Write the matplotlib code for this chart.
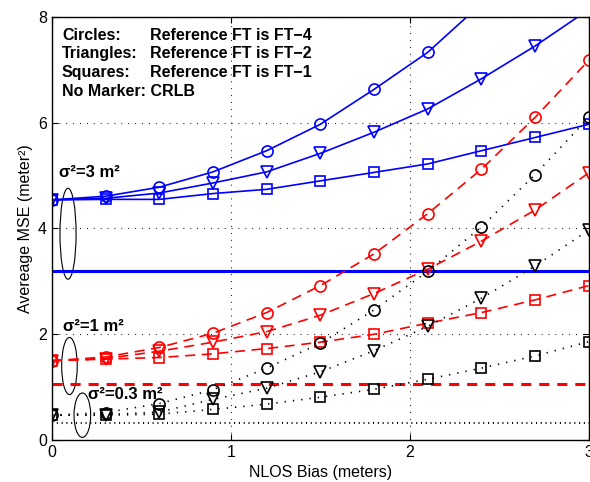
import matplotlib
matplotlib.use("Agg")
import matplotlib.pyplot as plt
from matplotlib.patches import Ellipse

plt.rcParams['font.family'] = ['Liberation Sans', 'DejaVu Sans']

# NLOS bias values (meters)
bias = [0, 0.3, 0.6, 0.9, 1.2, 1.5, 1.8, 2.1, 2.4, 2.7, 3.0]

# sigma^2 = 3 m^2 (blue, solid)
s3_circ = [4.54, 4.61, 4.78, 5.07, 5.47, 5.97, 6.63, 7.33, 8.25, 9.2, 10.2]
s3_tri = [4.54, 4.57, 4.67, 4.86, 5.07, 5.42, 5.82, 6.26, 6.83, 7.45, 8.14]
s3_sq = [4.54, 4.55, 4.55, 4.66, 4.74, 4.90, 5.06, 5.22, 5.47, 5.72, 5.97]
s3_crlb = 3.19

# sigma^2 = 1 m^2 (red, dashed)
s1_circ = [1.50, 1.57, 1.75, 2.02, 2.41, 2.92, 3.52, 4.28, 5.12, 6.10, 7.18]
s1_tri = [1.50, 1.54, 1.68, 1.85, 2.05, 2.36, 2.77, 3.23, 3.76, 4.35, 5.05]
s1_sq = [1.50, 1.53, 1.56, 1.63, 1.73, 1.85, 2.00, 2.21, 2.41, 2.65, 2.92]
s1_crlb = 1.06

# sigma^2 = 0.3 m^2 (black, dotted)
s03_circ = [0.47, 0.52, 0.69, 0.95, 1.36, 1.83, 2.46, 3.19, 4.03, 5.02, 6.10]
s03_tri = [0.47, 0.48, 0.53, 0.77, 0.98, 1.29, 1.69, 2.15, 2.68, 3.29, 3.97]
s03_sq = [0.47, 0.47, 0.49, 0.58, 0.68, 0.81, 0.96, 1.15, 1.36, 1.59, 1.86]
s03_crlb = 0.33

legend_labels = ["Circles:", "Triangles:", "Squares:"]
legend_texts = ["Reference FT is FT\u22124", "Reference FT is FT\u22122", "Reference FT is FT\u22121"]

fig = plt.figure(figsize=(5.9, 4.82), dpi=100)
ax = fig.add_axes([0.088, 0.087, 0.91, 0.878])

groups = [
    ('blue', '-', '-', (s3_circ, s3_tri, s3_sq), s3_crlb),
    ('red', (0, (6, 4)), (0, (3.3, 2.6)), (s1_circ, s1_tri, s1_sq), s1_crlb),
    ('black', (0, (0.8, 4.2)), (0, (0.5, 1.8)), (s03_circ, s03_tri, s03_sq), s03_crlb),
]
for color, ls, crlb_ls, series, crlb in groups:
    for ys, mk, ms in zip(series, ['o', 'v', 's'], [8, 8.5, 6.5]):
        ax.plot(bias, ys, color=color, linestyle=ls, lw=1.2, marker=mk,
                markersize=ms, markerfacecolor='none', markeredgecolor=color,
                markeredgewidth=1.2)
    ax.plot([bias[0], bias[-1]], [crlb, crlb], color=color, linestyle=crlb_ls,
            lw=2.2 if color != 'black' else 1.5)

# ellipses grouping curves
for (cx, cy, w, h) in [(0.09, 3.90, 0.09, 1.72), (0.098, 1.40, 0.087, 1.08), (0.17, 0.47, 0.093, 0.84)]:
    ax.add_patch(Ellipse((cx, cy), w, h, fill=False, edgecolor='black', lw=0.8))

ax.text(0.04, 5.05, "\u03c3\u00b2=3 m\u00b2", fontsize=12, fontweight='bold', va='center')
ax.text(0.06, 2.15, "\u03c3\u00b2=1 m\u00b2", fontsize=12, fontweight='bold', va='center')
ax.text(0.20, 0.87, "\u03c3\u00b2=0.3 m\u00b2", fontsize=12, fontweight='bold', va='center')

ys_txt = [7.65, 7.3, 6.94]
for lab, txt, yy in zip(legend_labels, legend_texts, ys_txt):
    ax.text(0.056, yy, lab, fontsize=11.5, fontweight='bold', va='center')
    ax.text(0.55, yy, txt, fontsize=11.5, fontweight='bold', va='center')
ax.text(0.056, 6.58, "No Marker: CRLB", fontsize=11.5, fontweight='bold', va='center')

ax.set_xlim(0, 3)
ax.set_ylim(0, 8)
ax.set_xticks([0, 1, 2, 3])
ax.set_yticks([0, 2, 4, 6, 8])
ax.tick_params(direction='in', labelsize=11.5, top=True, right=True, length=4)
ax.grid(True, linestyle=(0, (0.8, 5.4)), color='black', lw=0.8)
for sp in ax.spines.values():
    sp.set_linewidth(1.0)
ax.set_xlabel("NLOS Bias (meters)", fontsize=11.5)
ax.set_ylabel("Avereage MSE (meter\u00b2)", fontsize=11.5)

fig.savefig("out.png", dpi=100)
